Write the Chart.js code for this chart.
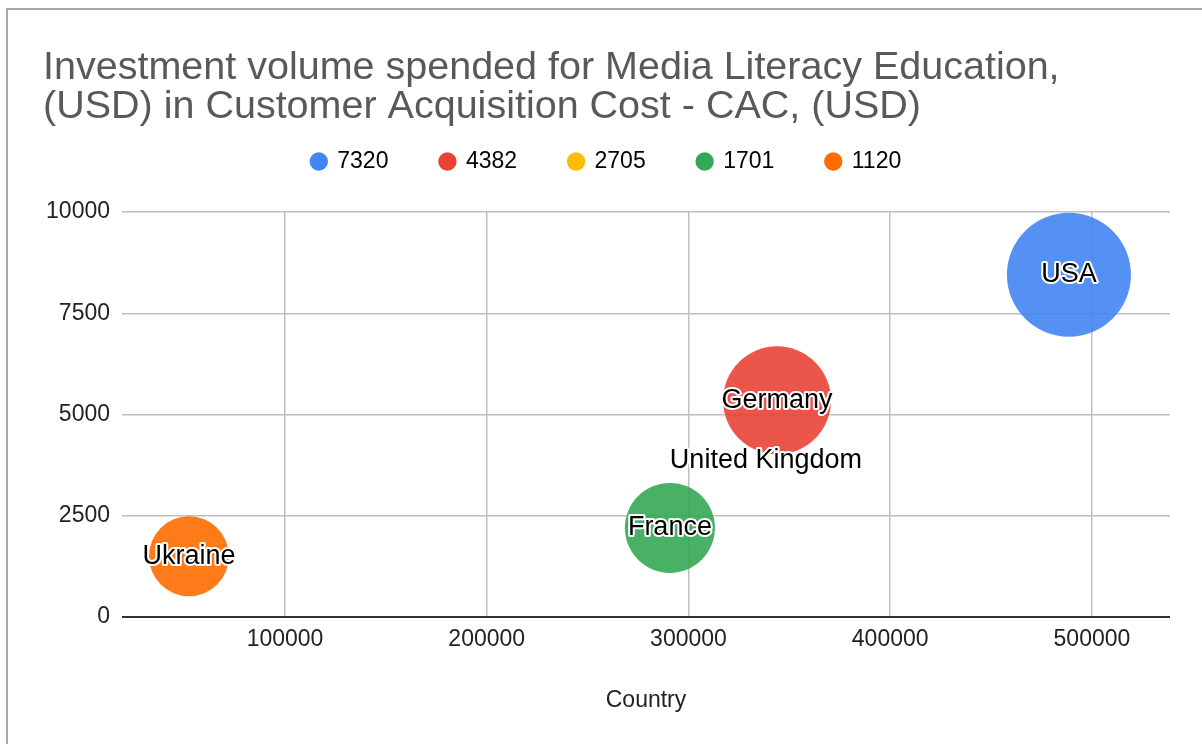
<!DOCTYPE html>
<html>
<head>
<meta charset="utf-8">
<script src="https://cdn.jsdelivr.net/npm/chart.js@4.4.1/dist/chart.umd.min.js"></script>
<style>
  html, body { margin: 0; background: #fff; }
  #wrap { position: relative; width: 1202px; height: 744px; overflow: hidden; }
  #frame { position: absolute; left: 6px; top: 8px; right: -10px; bottom: -10px;
           border-left: 2px solid #a8a8a8; border-top: 2px solid #a8a8a8; }
  canvas { position: absolute; left: 0; top: 0; }
</style>
</head>
<body>
<div id="wrap">
  <div id="frame"></div>
  <canvas id="chart" width="1202" height="744"></canvas>
</div>
<script>
// data
const countries = ["USA", "Germany", "United Kingdom", "France", "Ukraine"];
const seriesLabels = ["7320", "4382", "2705", "1701", "1120"];
const investment = [488600, 343900, 338400, 290800, 52400];   // x
const cac = [8450, 5350, 3870, 2200, 1500];                    // y
const bubbleRadius = [62, 54, 3, 45, 40];
const xTicks = [100000, 200000, 300000, 400000, 500000];
const yTicks = [0, 2500, 5000, 7500, 10000];

const colors = ["#4285f4", "#ea4335", "#fbbc04", "#34a853", "#ff6d01"];
const FONT = '"Liberation Sans", Arial, sans-serif';

function alpha(hex, a) {
  const n = parseInt(hex.slice(1), 16);
  return `rgba(${n >> 16},${(n >> 8) & 255},${n & 255},${a})`;
}

const datasets = countries.map((c, i) => ({
  label: seriesLabels[i],
  data: [{ x: investment[i], y: cac[i], r: bubbleRadius[i] }],
  backgroundColor: alpha(colors[i], 0.9),
  borderWidth: 0
}));

// country names on top of the bubbles, black with a white halo
const bubbleLabels = {
  id: "bubbleLabels",
  afterDatasetsDraw(chart) {
    const ctx = chart.ctx;
    ctx.save();
    ctx.font = "27px " + FONT;
    ctx.textAlign = "center";
    ctx.textBaseline = "middle";
    ctx.lineJoin = "round";
    chart.data.datasets.forEach((ds, i) => {
      const pt = chart.getDatasetMeta(i).data[0];
      ctx.lineWidth = 4;
      ctx.strokeStyle = "#fff";
      ctx.strokeText(countries[i], pt.x, pt.y);
      ctx.fillStyle = "#000";
      ctx.fillText(countries[i], pt.x, pt.y);
    });
    ctx.restore();
  }
};

// extra room between legend and plot
const legendGap = {
  id: "legendGap",
  beforeInit(chart) {
    const fit = chart.legend.fit;
    chart.legend.fit = function () {
      fit.bind(chart.legend)();
      this.height += 29;
    };
  }
};

new Chart(document.getElementById("chart"), {
  type: "bubble",
  data: { datasets },
  options: {
    responsive: false,
    devicePixelRatio: 1,
    animation: false,
    events: [],
    layout: { autoPadding: false, padding: { left: 43, right: 32, top: 0, bottom: 0 } },
    plugins: {
      tooltip: { enabled: false },
      title: {
        display: true,
        text: ["Investment volume spended for Media Literacy Education,",
               "(USD) in Customer Acquisition Cost - CAC, (USD)"],
        align: "start",
        color: "#595959",
        font: { family: FONT, size: 39.5, weight: "normal", lineHeight: 1.0 },
        padding: { top: 48, bottom: 3 }
      },
      legend: {
        display: true,
        position: "top",
        align: "center",
        labels: {
          usePointStyle: true,
          pointStyle: "circle",
          boxWidth: 14,
          boxHeight: 13,
          padding: 20,
          color: "#222",
          font: { family: FONT, size: 23 },
          generateLabels(chart) {
            return chart.data.datasets.map((ds, i) => ({
              text: ds.label + (i < datasets.length - 1 ? "\u00a0\u00a0\u00a0\u00a0\u00a0" : ""),
              fillStyle: colors[i],
              strokeStyle: colors[i],
              lineWidth: 0,
              pointStyle: "circle",
              datasetIndex: i
            }));
          }
        }
      }
    },
    scales: {
      x: {
        type: "linear",
        min: 19200,
        max: 538700,
        afterBuildTicks: axis => { axis.ticks = xTicks.map(v => ({ value: v })); },
        afterFit: axis => { axis.height = 127; },
        border: { display: false },
        grid: { color: "#c0c0c0", lineWidth: 1.5, drawTicks: false },
        ticks: {
          color: "#222",
          padding: 9,
          font: { family: FONT, size: 23 },
          callback: v => String(v)
        },
        title: {
          display: true,
          text: "Country",
          color: "#222",
          font: { family: FONT, size: 23 },
          padding: { top: 0, bottom: 30 }
        }
      },
      y: {
        type: "linear",
        min: 0,
        max: 10000,
        afterBuildTicks: axis => { axis.ticks = yTicks.map(v => ({ value: v })); },
        afterFit: axis => { axis.width = 79; },
        border: { display: false },
        grid: {
          color: ctx => ctx.tick && ctx.tick.value === 0 ? "#333" : "#c0c0c0",
          lineWidth: ctx => ctx.tick && ctx.tick.value === 0 ? 2 : 1.5,
          drawTicks: false
        },
        ticks: {
          color: "#222",
          padding: 12,
          font: { family: FONT, size: 23 },
          callback: v => String(v)
        }
      }
    }
  },
  plugins: [bubbleLabels, legendGap]
});
</script>
</body>
</html>
